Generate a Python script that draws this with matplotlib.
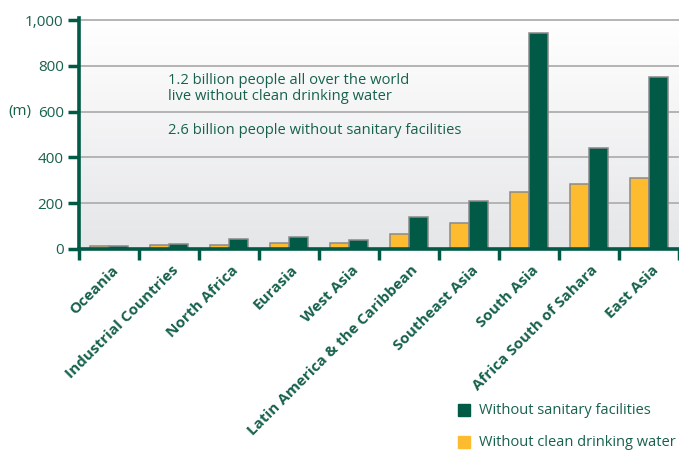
import numpy as np
import matplotlib
matplotlib.use("Agg")
import matplotlib.pyplot as plt
from matplotlib.colors import LinearSegmentedColormap
from matplotlib.patches import Rectangle
from matplotlib.transforms import ScaledTranslation

plt.rcParams["font.family"] = ["Open Sans", "DejaVu Sans"]

# Data (millions of people)
regions = ["Oceania", "Industrial Countries", "North Africa", "Eurasia", "West Asia",
           "Latin America & the Caribbean", "Southeast Asia", "South Asia",
           "Africa South of Sahara", "East Asia"]
no_water = [11, 18, 18, 25, 28, 66, 112, 247, 285, 309]
no_sanitation = [12, 24, 42, 51, 39, 138, 209, 942, 441, 752]
y_ticks = [0, 200, 400, 600, 800, 1000]

GREEN = "#005a46"
YELLOW = "#fdbb2f"
TEXT = "#17614d"
EDGE = "#8a8a8a"

fig = plt.figure(figsize=(6.79, 4.5), dpi=100)
ax = fig.add_axes([79 / 679, 201 / 450, 600 / 679, 231 / 450])

x = np.arange(len(regions))
ax.set_xlim(-0.5, len(regions) - 0.5)
ax.set_ylim(0, 1009)

# soft vertical gradient behind the bars
grad = np.linspace(0, 1, 256).reshape(-1, 1)
cmap = LinearSegmentedColormap.from_list("bg", ["#e5e6e8", "#ffffff"])
ax.imshow(grad, extent=[-0.5, len(regions) - 0.5, 0, 1009], origin="lower",
          aspect="auto", cmap=cmap, zorder=0)

ax.set_yticks(y_ticks)
ax.yaxis.grid(True, color="#b4b4b4", lw=1.4, zorder=1)
ax.set_axisbelow(True)

bw = 0.32
ax.bar(x - 0.16, no_water, bw, color=YELLOW, edgecolor=EDGE, lw=1.1, zorder=3)
ax.bar(x + 0.16, no_sanitation, bw, color=GREEN, edgecolor=EDGE, lw=1.1, zorder=3)

for s in ["top", "right"]:
    ax.spines[s].set_visible(False)
for s in ["left", "bottom"]:
    ax.spines[s].set_color(GREEN)
    ax.spines[s].set_linewidth(2.6)
    ax.spines[s].set_zorder(4)

ax.set_yticklabels([f"{v:,}" for v in y_ticks], color=TEXT, fontsize=11)
ax.tick_params(axis="y", length=8, width=2.5, color=GREEN, pad=3)

# separators between regions, labels at centres
ax.set_xticks(x)
ax.set_xticklabels(regions, rotation=45, ha="right", rotation_mode="anchor",
                   fontsize=11, fontweight="bold", color=TEXT)
ax.tick_params(axis="x", which="major", length=0, pad=10)
ax.set_xticks(np.arange(-0.5, len(regions)), minor=True)
ax.tick_params(axis="x", which="minor", length=8, width=2.5, color=GREEN)
shift = ScaledTranslation(2 / 100, 0, fig.dpi_scale_trans)
for lbl in ax.get_xticklabels():
    lbl.set_transform(lbl.get_transform() + shift)

fig.text(8 / 679, 1 - 112 / 450, "(m)", color=TEXT, fontsize=11, va="center")

fig.text(168 / 679, 1 - 80 / 450, "1.2 billion people all over the world", color=TEXT, fontsize=10.6, va="center")
fig.text(168 / 679, 1 - 97 / 450, "live without clean drinking water", color=TEXT, fontsize=10.6, va="center")
fig.text(168 / 679, 1 - 130 / 450, "2.6 billion people without sanitary facilities", color=TEXT, fontsize=10.6, va="center")

# legend
fig.patches.append(Rectangle((458 / 679, 1 - 416 / 450), 12 / 679, 12 / 450,
                             transform=fig.transFigure, color=GREEN))
fig.patches.append(Rectangle((458 / 679, 1 - 448 / 450), 12 / 679, 12 / 450,
                             transform=fig.transFigure, color=YELLOW))
fig.text(479 / 679, 1 - 410 / 450, "Without sanitary facilities", color=TEXT, fontsize=10.5, va="center")
fig.text(479 / 679, 1 - 442 / 450, "Without clean drinking water", color=TEXT, fontsize=10.5, va="center")

fig.savefig("out.png", dpi=100)
